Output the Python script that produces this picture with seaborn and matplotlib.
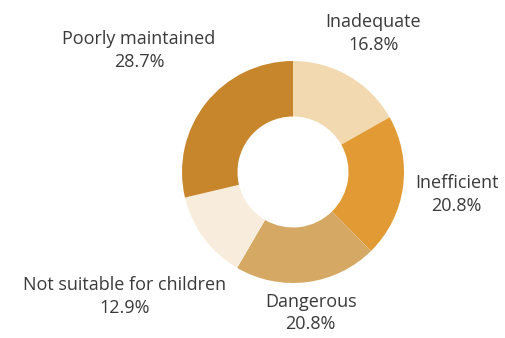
import matplotlib
matplotlib.use("Agg")
import matplotlib.pyplot as plt
import seaborn as sns
import numpy as np

categories = ["Inadequate", "Inefficient", "Dangerous", "Not suitable for children", "Poorly maintained"]
values = [16.8, 20.8, 20.8, 12.9, 28.7]
colors = ["#F2D9B0", "#E29B34", "#D5A864", "#F8EDDD", "#C8862C"]
label_dist = [1.44, 1.49, 1.28, 1.89, 1.77]

sns.set_theme(style="white")
plt.rcParams["font.family"] = ["Open Sans", "DejaVu Sans"]

fig = plt.figure(figsize=(5.05, 3.38), dpi=100)
ax = fig.add_axes([0, 0, 1, 1])
palette = sns.color_palette(colors)
wedges, _ = ax.pie(values, colors=palette, startangle=90, counterclock=False,
                   wedgeprops=dict(width=0.5, edgecolor="none", linewidth=0))

total = sum(values)
for w, cat, v, d in zip(wedges, categories, values, label_dist):
    ang = np.deg2rad((w.theta1 + w.theta2) / 2)
    x, y = d * np.cos(ang), d * np.sin(ang)
    ax.text(x, y, f"{cat}\n{v / total * 100:.1f}%", ha="center", va="center",
            fontsize=13, color="#3a3a3a", linespacing=1.35)

px = 111.0
cx, cy = 293.0, 338 - 172.0
ax.set_xlim(-cx / px, (505 - cx) / px)
ax.set_ylim(-cy / px, (338 - cy) / px)
ax.set_aspect("auto")
ax.axis("off")
fig.savefig("out.png", dpi=100)
